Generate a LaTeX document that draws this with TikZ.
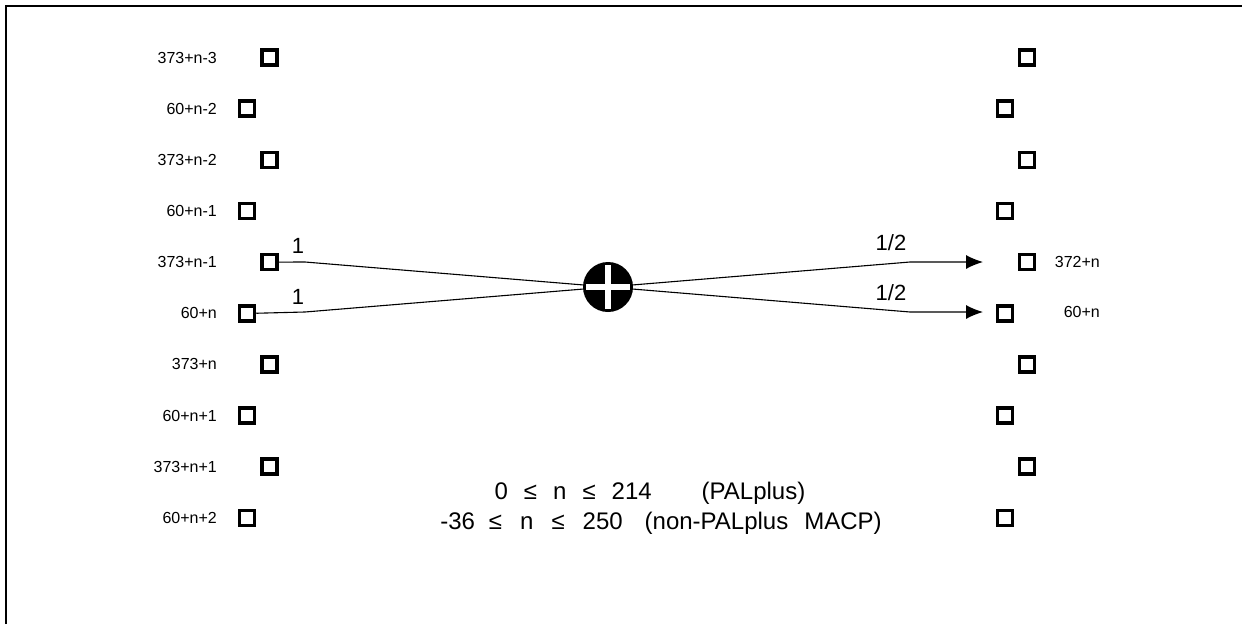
\documentclass[tikz,border=0pt]{standalone}
\usepackage{fontspec}
\setmainfont{Liberation Sans}
\usetikzlibrary{arrows.meta,positioning,backgrounds}

\tikzset{
  cell/.style={draw, line width=3.5pt, minimum size=15pt, inner sep=0pt},
  rowlabel/.style={anchor=east, font=\fontsize{16}{19}\selectfont, inner sep=0pt},
  weight/.style={font=\fontsize{22}{26}\selectfont, inner sep=0pt},
  rangetext/.style={font=\fontsize{24}{28}\selectfont, inner sep=0pt},
  wire/.style={line width=1.1pt},
  plusbar/.style={white, line width=6pt, shorten >=3pt, shorten <=3pt}
}

\begin{document}
\begin{tikzpicture}[x=1pt, y=-1pt]
\useasboundingbox (0,0) rectangle (1242,624);
\draw[line width=1.5pt] (6,624) -- (6,6) -- (1242,6);

% left column of lines
\foreach \i/\txt in {0/373+n-3,1/60+n-2,2/373+n-2,3/60+n-1,4/373+n-1,5/60+n,6/373+n,7/60+n+1,8/373+n+1,9/60+n+2}{
  \pgfmathsetmacro{\xl}{isodd(\i) ? 247 : 269.5}
  \node[cell] (lbox\i) at (\xl,57.5+\i*51.15) {};
  \node[rowlabel] (lnum\i) at (217,57.5+\i*51.15) {\txt};
}

% right column of lines
\foreach \i in {0,...,9}{
  \pgfmathsetmacro{\xr}{isodd(\i) ? 1005 : 1027}
  \node[cell] (rbox\i) at (\xr,57.5+\i*51.15) {};
}
\node[rowlabel] (rnum4) at (1100,262) {372+n};
\node[rowlabel] (rnum5) at (1100,312) {60+n};

% adder
\node[circle, fill=black, minimum size=50pt, inner sep=0pt] (sum) at (608,287) {};
\draw[plusbar] (sum.north) -- (sum.south);
\draw[plusbar] (sum.west) -- (sum.east);

\coordinate (inA) at (305,262);
\coordinate (inB) at (305,312);
\coordinate (outA) at (910,262);
\coordinate (outB) at (910,312);
\coordinate (tipA) at (983,262);
\coordinate (tipB) at (983,312);

\begin{scope}[on background layer]
\draw[wire] (lbox4.east) -- (inA) -- (sum.center);
\draw[wire] (lbox5.east) -- (inB) -- (sum.center);
\draw[wire, -{Latex[length=17pt, width=14pt]}] (sum.center) -- (outA) -- (tipA);
\draw[wire, -{Latex[length=17pt, width=14pt]}] (sum.center) -- (outB) -- (tipB);
\end{scope}

\node[weight] (wA) at (298,246) {1};
\node[weight] (wB) at (298,297) {1};
\node[weight] (hA) at (891,243) {1/2};
\node[weight] (hB) at (891,293) {1/2};

% value range of n
\node[rangetext] (rangeA) at (650,493) {0\hspace{16pt}≤\hspace{16pt}n\hspace{16pt}≤\hspace{16pt}214\hspace{50pt}(PALplus)};
\node[rangetext] (rangeB) at (661,523) {-36\hspace{14pt}≤\hspace{18pt}n\hspace{18pt}≤\hspace{18pt}250\hspace{22pt}(non-PALplus\hspace{16pt}MACP)};
\end{tikzpicture}
\end{document}
